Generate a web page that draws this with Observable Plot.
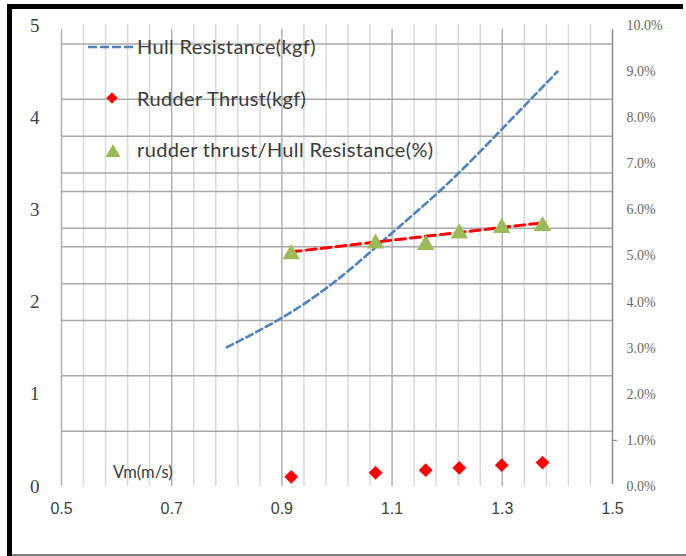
<!DOCTYPE html>
<html><head><meta charset="utf-8">
<script src="https://cdn.jsdelivr.net/npm/d3@7"></script>
<script src="https://cdn.jsdelivr.net/npm/@observablehq/plot@0.6"></script>
<style>
body{margin:0;background:#fff;}
#wrap{position:relative;width:686px;height:556px;overflow:hidden;background:#fff;}
#wrap svg{position:absolute;left:0;top:0;}
.lg{position:absolute;font-family:"Lato",sans-serif;font-size:20px;letter-spacing:0.35px;color:#3a3a3a;line-height:1;white-space:nowrap;}
.bd{position:absolute;}
</style></head><body>
<div id="wrap"></div>
<script>
// ---- data ----
const hullV = [0.8, 0.9, 1.0, 1.1, 1.2, 1.3, 1.4];
const hullKgf = [1.51, 1.83, 2.24, 2.75, 3.28, 3.88, 4.50];
const testV = [0.917, 1.070, 1.161, 1.222, 1.299, 1.373];
const rudderKgf = [0.105, 0.149, 0.177, 0.203, 0.231, 0.260];
const ratioPct = [5.04, 5.27, 5.24, 5.49, 5.61, 5.65];
const trendV = [0.917, 1.373];
const trendPct = [5.09, 5.72];
const xTicks = [0.5, 0.7, 0.9, 1.1, 1.3, 1.5];
const yLeftTicks = [0, 1, 2, 3, 4, 5];
const yRightTicks = [0, 1, 2, 3, 4, 5, 6, 7, 8, 9, 10];
const hGrid = [0.6, 1.2, 1.8, 2.2, 2.6, 2.8, 3.2, 3.4, 3.8, 4.2, 4.8];
const vGridMajor = [0.5, 0.7, 0.9, 1.1, 1.3];
const vGridMinor = d3.range(26).map(i => +(0.5 + i * 0.04).toFixed(2)).filter(v => !vGridMajor.includes(v) && v < 1.5);
const legendLabels = ["Hull Resistance(kgf)", "Rudder Thrust(kgf)", "rudder thrust/Hull Resistance(%)"];
const xLabel = "Vm(m/s)";

const hull = hullV.map((v, i) => ({v, kgf: hullKgf[i]}));
const test = testV.map((v, i) => ({v, rudder: rudderKgf[i], pct: ratioPct[i]}));
const trend = trendV.map((v, i) => ({v, pct: trendPct[i]}));

const BLUE = "#4f81bd", RED = "#ff0000", GREEN = "#9bbb59";

const plot = Plot.plot({
  width: 686, height: 556,
  marginLeft: 61, marginRight: 74, marginTop: 25, marginBottom: 70,
  x: {domain: [0.5, 1.5]},
  y: {domain: [0, 5]},
  style: {background: "transparent", overflow: "visible"},
  marks: [
    Plot.ruleX(vGridMinor, {y1: 0, y2: 5, stroke: "#d9d9d9", strokeWidth: 1.5, insetBottom: 1}),
    Plot.ruleX(vGridMajor, {y1: 0, y2: 5, stroke: "#b0b0b0", strokeWidth: 1.5, insetBottom: -4}),
    Plot.ruleY(hGrid, {x1: 0.5, x2: 1.5, stroke: "#a8a8a8", strokeWidth: 1.5}),
    Plot.ruleX([1.5], {y1: 0, y2: 5, stroke: "#8c8c8c", strokeWidth: 1.5, insetTop: -2, insetBottom: -4}),
    Plot.ruleY([0.5], {x1: 1.5, x2: 1.5, insetRight: -5, stroke: "#8c8c8c", strokeWidth: 1.2}),
    Plot.axisX(xTicks, {tickSize: 0, tickPadding: 16, label: null, fontSize: 16, fontFamily: "Liberation Sans", fill: "#404040", tickFormat: d => d.toFixed(1)}),
    Plot.axisY(yLeftTicks, {anchor: "left", tickSize: 0, tickPadding: 22, label: null, fontSize: 19, fontFamily: "Liberation Serif", fill: "#404040", tickFormat: d => String(d)}),
    Plot.axisY(yRightTicks.map(p => p / 2), {anchor: "right", tickSize: 0, tickPadding: 14, label: null, fontSize: 14, fontFamily: "Liberation Serif", fill: "#666666", tickFormat: d => (d * 2).toFixed(1) + "%"}),
    Plot.line(hull, {x: "v", y: "kgf", stroke: BLUE, strokeWidth: 2.6, strokeDasharray: "7,4", curve: "natural"}),
    Plot.line(trend, {x: "v", y: d => d.pct / 2, stroke: RED, strokeWidth: 3, strokeDasharray: "10,5"}),
    Plot.dot(test, {x: "v", y: "rudder", symbol: "square", rotate: 45, fill: RED, r: 5.5}),
    Plot.dot(test, {x: "v", y: d => d.pct / 2, symbol: "triangle", fill: GREEN, r: 6.5})
  ]
});
const wrap = document.getElementById("wrap");
wrap.appendChild(plot);

// legend (inside the plot area, as in the reference)
const legendSwatches = [
  `<svg width="46" height="6"><line x1="0" y1="3" x2="46" y2="3" stroke="${BLUE}" stroke-width="2.6" stroke-dasharray="9,3"/></svg>`,
  `<svg width="14" height="14"><rect x="3" y="3" width="8" height="8" fill="${RED}" transform="rotate(45 7 7)"/></svg>`,
  `<svg width="16" height="14"><polygon points="8,0 15.5,13 0.5,13" fill="${GREEN}"/></svg>`
];
const legendPos = [[88, 44, 47], [105, 91, 99], [105, 144, 150]];
legendLabels.forEach((t, i) => {
  const s = document.createElement("div");
  s.className = "bd"; s.style.left = legendPos[i][0] + "px"; s.style.top = legendPos[i][1] + "px";
  s.style.lineHeight = "0"; s.innerHTML = legendSwatches[i];
  wrap.appendChild(s);
  const d = document.createElement("div");
  d.className = "lg"; d.textContent = t;
  d.style.left = "137px"; d.style.top = (legendPos[i][2] - 11) + "px";
  wrap.appendChild(d);
});
const xl = document.createElement("div");
xl.className = "lg"; xl.textContent = xLabel;
xl.style.left = "113px"; xl.style.top = "464px"; xl.style.fontSize = "16.5px"; xl.style.letterSpacing = "0";
wrap.appendChild(xl);

// picture frame
[["7px","4px","676px","5px","#000"],["7px","4px","5px","552px","#000"],["12px","554px","674px","2px","#808080"]].forEach(([l,t,w,h,c]) => {
  const b = document.createElement("div");
  b.className = "bd"; Object.assign(b.style, {left: l, top: t, width: w, height: h, background: c});
  wrap.appendChild(b);
});
</script>
</body></html>
